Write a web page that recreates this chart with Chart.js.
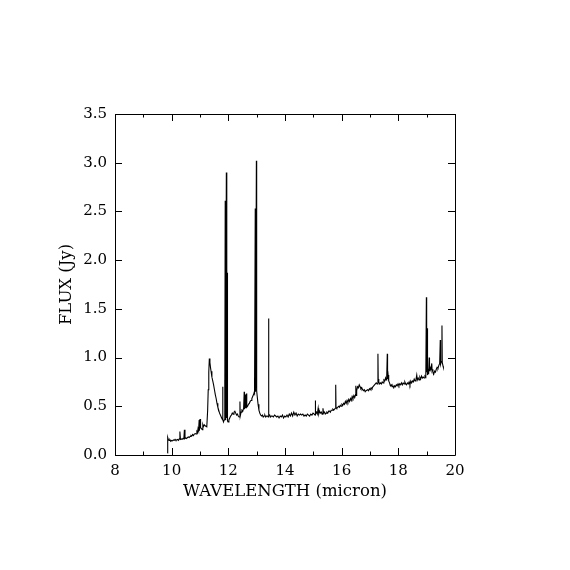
<!DOCTYPE html>
<html><head><meta charset="utf-8">
<script src="https://cdn.jsdelivr.net/npm/chart.js@4.4.0/dist/chart.umd.min.js"></script>
<style>html,body{margin:0;padding:0;background:#fff;}</style>
</head><body>
<canvas id="c" width="570" height="570"></canvas>
<script>
const wavelength = [
9.85,9.86,9.88,9.91,9.94,9.97,10.00,10.03,10.06,10.09,10.12,10.15,10.18,10.21,10.24,10.27,10.29,10.31,10.34,10.37,
10.40,10.43,10.45,10.47,10.50,10.53,10.56,10.59,10.62,10.65,10.68,10.71,10.74,10.77,10.80,10.83,10.86,10.89,10.91,10.93,
10.95,10.97,10.98,11.00,11.02,11.05,11.08,11.10,11.12,11.15,11.18,11.21,11.24,11.27,11.29,11.31,11.33,11.35,11.37,11.39,
11.42,11.45,11.48,11.51,11.54,11.57,11.60,11.63,11.66,11.69,11.72,11.75,11.78,11.80,11.81,11.83,11.85,11.87,11.88,11.89,
11.90,11.91,11.93,11.94,11.95,11.96,11.97,11.99,12.02,12.05,12.08,12.11,12.14,12.17,12.20,12.23,12.26,12.29,12.32,12.35,
12.38,12.41,12.42,12.45,12.48,12.51,12.54,12.56,12.57,12.59,12.60,12.62,12.64,12.65,12.68,12.71,12.74,12.77,12.80,12.83,
12.86,12.89,12.91,12.92,12.93,12.95,12.96,12.99,13.00,13.02,13.05,13.08,13.11,13.14,13.17,13.20,13.23,13.26,13.29,13.32,
13.35,13.38,13.41,13.42,13.43,13.46,13.49,13.52,13.55,13.59,13.63,13.67,13.71,13.75,13.79,13.83,13.87,13.91,13.95,13.99,
14.03,14.07,14.11,14.15,14.19,14.23,14.27,14.31,14.35,14.39,14.43,14.47,14.51,14.55,14.59,14.63,14.67,14.71,14.75,14.79,
14.83,14.87,14.91,14.95,14.99,15.03,15.06,15.07,15.08,15.11,15.14,15.17,15.19,15.22,15.25,15.28,15.31,15.34,15.36,15.39,
15.42,15.45,15.48,15.51,15.54,15.57,15.60,15.63,15.66,15.69,15.72,15.75,15.78,15.79,15.80,15.83,15.86,15.89,15.92,15.95,
15.98,16.01,16.04,16.07,16.10,16.13,16.16,16.19,16.22,16.25,16.28,16.31,16.34,16.37,16.40,16.43,16.46,16.49,16.50,16.51,
16.53,16.56,16.59,16.62,16.65,16.68,16.71,16.74,16.77,16.80,16.83,16.86,16.89,16.92,16.95,16.98,17.01,17.04,17.07,17.10,
17.13,17.16,17.19,17.22,17.25,17.28,17.29,17.31,17.34,17.37,17.40,17.43,17.46,17.49,17.52,17.55,17.57,17.59,17.61,17.62,
17.64,17.66,17.69,17.72,17.75,17.78,17.81,17.84,17.87,17.90,17.93,17.96,17.99,18.02,18.05,18.08,18.11,18.14,18.17,18.20,
18.23,18.26,18.29,18.32,18.35,18.38,18.41,18.44,18.47,18.50,18.53,18.56,18.59,18.62,18.65,18.67,18.70,18.73,18.76,18.79,
18.82,18.85,18.88,18.91,18.94,18.97,18.99,19.00,19.02,19.03,19.05,19.07,19.09,19.10,19.12,19.15,19.18,19.19,19.22,19.25,
19.28,19.31,19.34,19.37,19.40,19.43,19.46,19.48,19.49,19.52,19.54,19.55,19.58,19.59
];
const flux = [
0.02,0.18,0.16,0.15,0.155,0.14,0.15,0.145,0.155,0.15,0.16,0.15,0.155,0.16,0.15,0.165,0.24,0.16,0.165,0.16,
0.17,0.165,0.26,0.17,0.175,0.17,0.18,0.185,0.18,0.19,0.20,0.195,0.21,0.20,0.215,0.22,0.215,0.24,0.23,0.27,
0.25,0.36,0.25,0.37,0.28,0.27,0.26,0.31,0.29,0.31,0.30,0.30,0.29,0.46,0.67,0.85,0.99,0.95,0.90,0.86,
0.80,0.76,0.72,0.67,0.62,0.58,0.53,0.49,0.46,0.43,0.41,0.39,0.37,0.70,0.36,0.34,0.36,0.77,0.40,2.61,
0.36,0.80,2.90,0.38,1.20,1.87,0.35,0.34,0.36,0.38,0.40,0.41,0.43,0.42,0.44,0.45,0.43,0.41,0.42,0.40,
0.39,0.55,0.40,0.44,0.46,0.45,0.48,0.65,0.47,0.62,0.48,0.50,0.63,0.49,0.50,0.52,0.53,0.55,0.56,0.58,
0.60,0.62,0.64,0.79,0.63,2.53,0.65,3.02,0.66,0.60,0.52,0.46,0.43,0.41,0.40,0.41,0.39,0.40,0.41,0.39,
0.40,0.40,0.39,1.40,0.40,0.41,0.39,0.40,0.40,0.39,0.41,0.40,0.39,0.40,0.38,0.40,0.39,0.41,0.38,0.40,
0.39,0.41,0.39,0.42,0.40,0.43,0.40,0.44,0.41,0.43,0.40,0.42,0.41,0.42,0.41,0.42,0.40,0.41,0.40,0.42,
0.41,0.40,0.42,0.41,0.43,0.42,0.41,0.56,0.42,0.44,0.42,0.48,0.42,0.45,0.43,0.44,0.42,0.48,0.43,0.44,
0.42,0.43,0.44,0.43,0.45,0.45,0.44,0.46,0.46,0.47,0.46,0.47,0.48,0.72,0.49,0.48,0.49,0.50,0.49,0.51,
0.50,0.52,0.51,0.53,0.52,0.55,0.53,0.56,0.54,0.57,0.55,0.58,0.56,0.60,0.58,0.61,0.59,0.62,0.71,0.61,
0.66,0.70,0.69,0.72,0.70,0.68,0.69,0.67,0.66,0.67,0.65,0.66,0.66,0.67,0.66,0.68,0.67,0.69,0.68,0.70,
0.71,0.72,0.73,0.74,0.73,1.04,0.78,0.75,0.73,0.74,0.73,0.75,0.74,0.77,0.76,0.79,0.77,0.80,1.04,0.78,
0.82,0.76,0.74,0.71,0.72,0.70,0.71,0.69,0.71,0.70,0.72,0.71,0.73,0.71,0.73,0.72,0.74,0.72,0.74,0.73,
0.75,0.73,0.72,0.74,0.73,0.75,0.72,0.76,0.74,0.76,0.75,0.78,0.76,0.77,0.82,0.77,0.79,0.77,0.80,0.78,
0.81,0.79,0.80,0.79,0.81,0.80,1.62,0.85,1.30,0.82,0.86,0.83,1.00,0.86,0.90,0.87,0.94,0.88,0.85,0.83,
0.86,0.85,0.88,0.90,0.89,0.92,0.94,1.18,0.93,0.96,1.33,0.95,0.91,0.90
];
const xTickValues = [8,10,12,14,16,18,20];
const xMinorTickValues = [9,11,13,15,17,19];
const yTickValues = [0,0.5,1,1.5,2,2.5,3,3.5];
const xTitle = 'WAVELENGTH (micron)';
const yTitle = 'FLUX (Jy)';

const points = wavelength.map((w, i) => ({x: w, y: flux[i]}));
const FONT = '"DejaVu Serif", "Liberation Serif", serif';

const frameTicks = {
  id: 'frameTicks',
  afterDraw(chart) {
    const {ctx, chartArea: a, scales: {x, y}} = chart;
    ctx.save();
    ctx.strokeStyle = '#000';
    ctx.lineWidth = 1;
    ctx.beginPath();
    ctx.rect(Math.round(a.left) + 0.5, Math.round(a.top) + 0.5, Math.round(a.right - a.left), Math.round(a.bottom - a.top));
    const tick = (px, len, vertical) => {
      const p = Math.round(px) + 0.5;
      if (vertical) {
        ctx.moveTo(p, a.bottom); ctx.lineTo(p, a.bottom - len);
        ctx.moveTo(p, a.top); ctx.lineTo(p, a.top + len);
      } else {
        ctx.moveTo(a.left, p); ctx.lineTo(a.left + len, p);
        ctx.moveTo(a.right, p); ctx.lineTo(a.right - len, p);
      }
    };
    xTickValues.forEach(v => tick(x.getPixelForValue(v), 7, true));
    xMinorTickValues.forEach(v => tick(x.getPixelForValue(v), 3.5, true));
    yTickValues.forEach(v => tick(y.getPixelForValue(v), 7, false));
    ctx.stroke();
    ctx.restore();
  }
};

new Chart(document.getElementById('c'), {
  type: 'line',
  data: {
    datasets: [{
      data: points,
      borderColor: '#000',
      borderWidth: 1.1,
      pointRadius: 0,
      tension: 0,
      fill: false
    }]
  },
  options: {
    responsive: false,
    animation: false,
    devicePixelRatio: 1,
    layout: {padding: {left: 0, top: 114, right: 115, bottom: 0}},
    plugins: {legend: {display: false}, tooltip: {enabled: false}},
    scales: {
      x: {
        type: 'linear', min: 8, max: 20,
        afterBuildTicks: s => { s.ticks = xTickValues.map(v => ({value: v})); },
        afterFit: s => { s.height = 115; },
        grid: {display: false, drawTicks: false},
        border: {display: false},
        ticks: {color: '#000', padding: 7, font: {family: FONT, size: 15}, maxRotation: 0,
                callback: v => String(v)},
        title: {display: true, text: xTitle, color: '#000', font: {family: FONT, size: 16.5},
                padding: {top: 0, bottom: 68}}
      },
      y: {
        type: 'linear', min: 0, max: 3.5,
        afterBuildTicks: s => { s.ticks = yTickValues.map(v => ({value: v})); },
        afterFit: s => { s.width = 115; },
        grid: {display: false, drawTicks: false},
        border: {display: false},
        ticks: {color: '#000', padding: 8, font: {family: FONT, size: 15},
                callback: v => Number(v).toFixed(1)},
        title: {display: true, text: yTitle, color: '#000', font: {family: FONT, size: 16.5},
                padding: {top: 57, bottom: 0}}
      }
    }
  },
  plugins: [frameTicks]
});
</script>
</body></html>
